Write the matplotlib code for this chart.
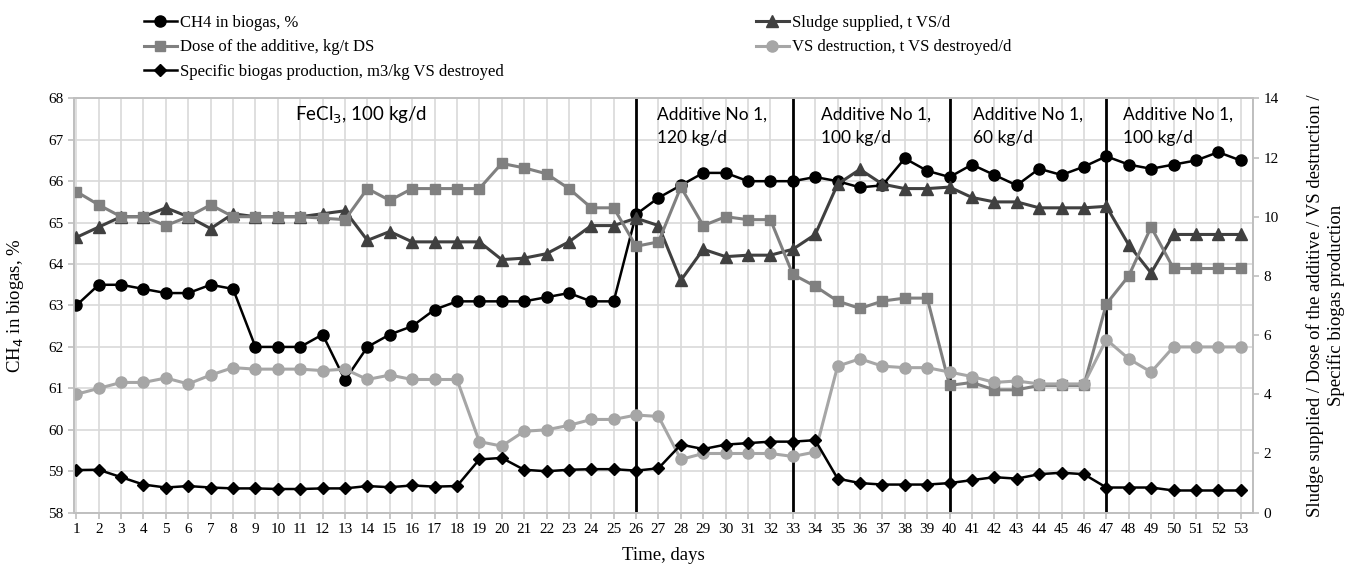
import matplotlib.pyplot as plt
import numpy as np

days = list(range(1, 54))

# CH4 in biogas, % (left axis)
ch4 = [63.0, 63.5, 63.5, 63.4, 63.3, 63.3, 63.5, 63.4, 62.0, 62.0,
       62.0, 62.3, 61.2, 62.0, 62.3, 62.5, 62.9, 63.1, 63.1, 63.1,
       63.1, 63.2, 63.3, 63.1, 63.1, 65.2, 65.6, 65.9, 66.2, 66.2,
       66.0, 66.0, 66.0, 66.1, 66.0, 65.85, 65.9, 66.55, 66.25, 66.1,
       66.4, 66.15, 65.9, 66.3, 66.15, 66.35, 66.6, 66.4, 66.3, 66.4,
       66.5, 66.7, 66.5]

# right axis series
sludge = [9.3, 9.65, 10.0, 10.0, 10.3, 10.0, 9.6, 10.1, 10.0, 10.0,
          10.0, 10.1, 10.2, 9.2, 9.5, 9.15, 9.15, 9.15, 9.15, 8.55,
          8.6, 8.75, 9.15, 9.7, 9.7, 9.95, 9.7, 7.85, 8.9, 8.65,
          8.7, 8.7, 8.9, 9.4, 11.1, 11.6, 11.1, 10.95, 10.95, 11.0,
          10.65, 10.5, 10.5, 10.3, 10.3, 10.3, 10.35, 9.05, 8.1, 9.4,
          9.4, 9.4, 9.4]
dose = [10.85, 10.4, 10.0, 10.0, 9.7, 10.0, 10.4, 10.0, 10.0, 10.0,
        10.0, 9.95, 9.9, 10.95, 10.55, 10.95, 10.95, 10.95, 10.95, 11.8,
        11.65, 11.45, 10.95, 10.3, 10.3, 9.0, 9.15, 11.0, 9.7, 10.0,
        9.9, 9.9, 8.05, 7.65, 7.15, 6.9, 7.15, 7.25, 7.25, 4.3,
        4.4, 4.15, 4.15, 4.3, 4.3, 4.3, 7.05, 8.0, 9.65, 8.25,
        8.25, 8.25, 8.25]
vs_destr = [4.0, 4.2, 4.4, 4.4, 4.55, 4.35, 4.65, 4.9, 4.85, 4.85,
            4.85, 4.8, 4.85, 4.5, 4.65, 4.5, 4.5, 4.5, 2.4, 2.25,
            2.75, 2.8, 2.95, 3.15, 3.15, 3.3, 3.25, 1.8, 2.0, 2.0,
            2.0, 2.0, 1.9, 2.05, 4.95, 5.2, 4.95, 4.9, 4.9, 4.75,
            4.6, 4.4, 4.45, 4.35, 4.35, 4.35, 5.85, 5.2, 4.75, 5.6,
            5.6, 5.6, 5.6]
spec_biogas = [1.44, 1.45, 1.2, 0.95, 0.85, 0.9, 0.85, 0.82, 0.82, 0.8,
               0.8, 0.82, 0.82, 0.9, 0.86, 0.92, 0.88, 0.9, 1.8, 1.85,
               1.45, 1.4, 1.45, 1.47, 1.47, 1.42, 1.5, 2.3, 2.15, 2.3,
               2.35, 2.4, 2.4, 2.45, 1.15, 1.0, 0.95, 0.95, 0.95, 1.0,
               1.1, 1.2, 1.15, 1.3, 1.35, 1.3, 0.85, 0.85, 0.85, 0.75,
               0.75, 0.75, 0.75]

period_bounds = [26, 33, 40, 47]
period_labels = ["Additive No 1,\n120 kg/d", "Additive No 1,\n100 kg/d",
                 "Additive No 1,\n60 kg/d", "Additive No 1,\n100 kg/d"]
label_x = [26.95, 34.25, 41.05, 47.75]

serif = "Liberation Serif"
grid_c = "#d9d9d9"
spine_c = "#bfbfbf"

fig = plt.figure(figsize=(13.54, 5.65), dpi=100)
ax = fig.add_axes([0.0547, 0.0926, 0.8707, 0.7334])
ax2 = ax.twinx()

ax.set_xlim(0.9, 53.55)
ax.set_ylim(58, 68)
ax2.set_ylim(0, 14)
ax.set_xticks(days)
ax.set_yticks(range(58, 69))
ax2.set_yticks(range(0, 15, 2))
ax.grid(True, color=grid_c, lw=1.2)
ax.set_axisbelow(True)

for a in (ax, ax2):
    for s in a.spines.values():
        s.set_color(spine_c)
        s.set_linewidth(1.2)
    a.tick_params(colors=spine_c, labelcolor="black", length=4, width=1.2)
ax.axvline(53.55, color=grid_c, lw=1.2)

for b in period_bounds:
    ax.axvline(b, color="black", lw=2, zorder=1.5)

ln_ch4, = ax.plot(days, ch4, color="black", lw=1.8, marker="o", ms=8, zorder=3)
ln_sl, = ax2.plot(days, sludge, color="#404040", lw=2.2, marker="^", ms=8.5)
ln_dose, = ax2.plot(days, dose, color="#808080", lw=2.2, marker="s", ms=7)
ln_vs, = ax2.plot(days, vs_destr, color="#a6a6a6", lw=2.2, marker="o", ms=8)
ln_sp, = ax2.plot(days, spec_biogas, color="black", lw=1.8, marker="D", ms=6)

for lab in ax.get_xticklabels() + ax.get_yticklabels() + ax2.get_yticklabels():
    lab.set_fontfamily(serif)
    lab.set_fontsize(11)

ax.set_xlabel("Time, days", fontfamily=serif, fontsize=13.5, labelpad=8)
ax.set_ylabel("CH$_4$ in biogas, %", fontfamily=serif, fontsize=13.5)
ax.yaxis.set_label_coords(-0.041, 0.5)
ax2.set_ylabel("Sludge supplied / Dose of the additive / VS destruction /\nSpecific biogas production",
               fontfamily=serif, fontsize=13.5, labelpad=20)

ax.text(10.75, 67.6, "FeCl$_3$, 100 kg/d", fontfamily="Lato", fontsize=13.5, va="center")
for xp, txt in zip(label_x, period_labels):
    ax.text(xp, 67.33, txt, fontfamily="Lato", fontsize=12.5, va="center", linespacing=1.55)

leg_font = {"family": serif, "size": 12}
fig.legend([ln_ch4, ln_dose, ln_sp],
           ["CH4 in biogas, %", "Dose of the additive, kg/t DS",
            "Specific biogas production, m3/kg VS destroyed"],
           loc="upper left", bbox_to_anchor=(0.095, 1.0), frameon=False,
           prop=leg_font, handlelength=2.0, handletextpad=0.2, labelspacing=0.5)
fig.legend([ln_sl, ln_vs],
           ["Sludge supplied, t VS/d", "VS destruction, t VS destroyed/d"],
           loc="upper left", bbox_to_anchor=(0.547, 1.0), frameon=False,
           prop=leg_font, handlelength=2.0, handletextpad=0.2, labelspacing=0.5)

fig.savefig("out.png", dpi=100)
